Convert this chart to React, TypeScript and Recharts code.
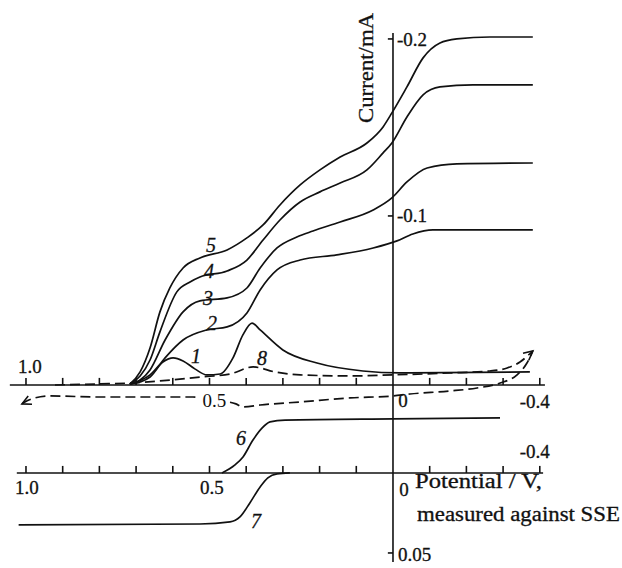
import { LineChart, Line, XAxis, YAxis, ReferenceLine, ReferenceDot } from "recharts";

// potential in V vs SSE, current in mA (cathodic negative, drawn upward)
const curve1 = [
  [0.717, -0.005], [0.662, -0.0102], [0.627, -0.0175], [0.599, -0.0198], [0.572, -0.0181],
  [0.54, -0.0136], [0.507, -0.0102], [0.471, -0.0107], [0.436, -0.0198], [0.409, -0.0328],
  [0.384, -0.0395], [0.362, -0.0356], [0.3, -0.0243], [0.207, -0.0169], [0.082, -0.0124],
  [-0.019, -0.0113], [-0.373, -0.0119],
];
const curve2 = [
  [0.717, -0.005], [0.689, -0.0062], [0.662, -0.009], [0.621, -0.0198], [0.572, -0.0299],
  [0.507, -0.0356], [0.452, -0.0373], [0.398, -0.0452], [0.362, -0.0582], [0.316, -0.0695],
  [0.253, -0.0751], [0.153, -0.078], [0.054, -0.0819], [-0.011, -0.0859], [-0.054, -0.0898],
  [-0.109, -0.0921], [-0.381, -0.0921],
];
const curve3 = [
  [0.717, -0.005], [0.689, -0.0073], [0.662, -0.013], [0.621, -0.0299], [0.572, -0.0458],
  [0.526, -0.052], [0.452, -0.0537], [0.398, -0.0593], [0.362, -0.0706], [0.316, -0.0819],
  [0.262, -0.0881], [0.218, -0.0915], [0.144, -0.0966], [0.054, -0.1034], [0.003, -0.1102],
  [-0.038, -0.1192], [-0.093, -0.1271], [-0.174, -0.1294], [-0.381, -0.1299],
];
const curve4 = [
  [0.717, -0.005], [0.689, -0.0096], [0.662, -0.0186], [0.635, -0.0345], [0.589, -0.0571],
  [0.553, -0.0627], [0.526, -0.0655], [0.452, -0.0689], [0.398, -0.0751], [0.354, -0.0864],
  [0.308, -0.0977], [0.253, -0.1079], [0.199, -0.1136], [0.144, -0.1186], [0.071, -0.126],
  [0.027, -0.1356], [0.003, -0.1412], [-0.038, -0.1559], [-0.082, -0.1684], [-0.128, -0.1729],
  [-0.218, -0.174], [-0.381, -0.174],
];
const curve5 = [
  [0.717, -0.005], [0.689, -0.0119], [0.662, -0.0254], [0.635, -0.0458], [0.608, -0.0593],
  [0.572, -0.0706], [0.526, -0.0763], [0.452, -0.0808], [0.398, -0.0876], [0.354, -0.0949],
  [0.308, -0.1062], [0.253, -0.1175], [0.199, -0.126], [0.144, -0.1333], [0.071, -0.1412],
  [0.027, -0.1503], [0.003, -0.1582], [-0.038, -0.1729], [-0.082, -0.1893], [-0.128, -0.1977],
  [-0.174, -0.2], [-0.264, -0.2011], [-0.381, -0.2011],
];
// curve 8 (dashed cyclic scan): forward and return branches
const curve8Forward = [
  [0.921, -0.0045], [0.798, -0.0051], [0.717, -0.0056], [0.635, -0.0068], [0.526, -0.009],
  [0.444, -0.0107], [0.381, -0.0147], [0.322, -0.0119], [0.253, -0.0102], [0.117, -0.0096],
  [0, -0.0102], [-0.155, -0.0113], [-0.264, -0.0124], [-0.311, -0.0141], [-0.346, -0.0175],
  [-0.381, -0.0237],
];
const curve8Return = [
  [1.011, 0.0062], [1.003, 0.0051], [0.975, 0.0028], [0.935, 0.0017], [0.798, 0.0023],
  [0.662, 0.0023], [0.545, 0.0023], [0.485, 0.004], [0.428, 0.0062], [0.409, 0.0079],
  [0.362, 0.0068], [0.253, 0.0051], [0.117, 0.0028], [0, 0.0017], [-0.046, 0.0006],
  [-0.155, -0.0011], [-0.229, -0.0028], [-0.292, -0.0056], [-0.338, -0.0102], [-0.365, -0.0169],
  [-0.381, -0.0237],
];
// lower panel (own current scale)
const curve6 = [
  [0.466, 0], [0.4305, -0.005], [0.4087, -0.01], [0.3815, -0.0206], [0.357, -0.028],
  [0.335, -0.0319], [0.294, -0.033], [0, -0.0338], [-0.2916, -0.0344],
];
const curve7 = [
  [1.02, 0.0325], [0.526, 0.0319], [0.444, 0.0306], [0.417, 0.0275], [0.39, 0.01875],
  [0.362, 0.00875], [0.341, 0.0031], [0.316, 0.0006], [0.281, 0],
];

const potentialTicks = [1.0, 0.9, 0.8, 0.7, 0.6, 0.5, 0.4, 0.3, 0.2, 0.1, -0.1, -0.2, -0.3, -0.4];
const upperCurrentTicks = [-0.2, -0.1];
const lowerCurrentTicks = [0.05];

const upperPotentialLabels = [
  { v: 1.0, text: "1.0", dx: 4, dy: -12 },
  { v: 0.5, text: "0.5", dx: 5, dy: 22, halo: true },
  { v: 0, text: "0", dx: 10, dy: 22 },
  { v: -0.4, text: "-0.4", dx: -5, dy: 23 },
];
const lowerPotentialLabels = [
  { v: 1.0, text: "1.0", dx: 1, dy: 21 },
  { v: 0.5, text: "0.5", dx: 2.5, dy: 21 },
  { v: 0, text: "0", dx: 11, dy: 23 },
  { v: -0.4, text: "-0.4", dx: -5, dy: -15 },
];
const upperCurrentLabels = [
  { i: -0.2, text: "-0.2", dy: 7 },
  { i: -0.1, text: "-0.1", dy: 6 },
];
const lowerCurrentLabels = [{ i: 0.05, text: "0.05", dy: 8 }];

const upperCurveTags = [
  { v: 0.496, i: -0.0836, text: "5" },
  { v: 0.501, i: -0.0689, text: "4" },
  { v: 0.504, i: -0.0537, text: "3" },
  { v: 0.493, i: -0.0395, text: "2" },
  { v: 0.537, i: -0.0209, text: "1" },
  { v: 0.357, i: -0.0198, text: "8" },
];
const lowerCurveTags = [
  { v: 0.414, i: -0.0219, text: "6" },
  { v: 0.373, i: 0.03, text: "7" },
];

const UP_AXIS = -0.0045; // where the upper potential axis is drawn
const FONT = '"Liberation Serif", "DejaVu Serif", "Times New Roman", Times, serif';
const INK = "#111";

const pts = (a: number[][]) => a.map(([v, i]) => ({ v, i }));

const Txt = ({ x, y, text, anchor = "middle", italic = false, size = 19, halo = false, fit, rotate, baseline }: any) => (
  <text
    x={x}
    y={y}
    textAnchor={anchor}
    fontFamily={FONT}
    style={{ fontFamily: FONT, fontSize: size, fontStyle: italic ? "italic" : "normal", paintOrder: "stroke" }}
    fill={INK}
    stroke={halo ? "#fff" : INK}
    strokeWidth={halo ? 8 : 0.3}
    dominantBaseline={baseline}
    textLength={fit}
    lengthAdjust={fit ? "spacingAndGlyphs" : undefined}
    transform={rotate ? `rotate(${rotate} ${x} ${y})` : undefined}
  >
    {text}
  </text>
);

const arrowDot = (atIndex: number, angle: number) => (p: any) => {
  if (p.index !== atIndex) return <g key={p.index} />;
  const { cx, cy } = p;
  return (
    <path
      key={p.index}
      d={`M ${cx - 9} ${cy - 4.5} L ${cx} ${cy} L ${cx - 9} ${cy + 4.5}`}
      fill="none"
      stroke={INK}
      strokeWidth={1.6}
      transform={`rotate(${angle} ${cx} ${cy})`}
    />
  );
};

export default function App() {
  const line = { dataKey: "i", stroke: INK, strokeWidth: 1.7, dot: false, activeDot: false, isAnimationActive: false, type: "monotone" as const };
  const axisStroke = { stroke: INK, strokeWidth: 1.6 };
  return (
    <div style={{ position: "absolute", left: 0, top: 0, width: 622, height: 568, background: "#fff", fontFamily: FONT }}>
      <LineChart width={622} height={568} margin={{ top: 0, right: 0, bottom: 0, left: 0 }}>
        <XAxis type="number" dataKey="v" domain={[-0.624, 1.0708]} reversed allowDataOverflow hide />
        <YAxis yAxisId="up" type="number" domain={[-0.222, 0.0989]} reversed allowDataOverflow hide />
        <YAxis yAxisId="low" type="number" domain={[-0.2956, 0.0594]} reversed allowDataOverflow hide />

        {/* axes */}
        <ReferenceLine yAxisId="up" segment={[{ x: 1.044, y: UP_AXIS }, { x: -0.414, y: UP_AXIS }]} {...axisStroke} />
        <ReferenceLine yAxisId="low" segment={[{ x: 1.025, y: 0 }, { x: -0.409, y: 0 }]} {...axisStroke} />
        <ReferenceLine yAxisId="up" segment={[{ x: 0, y: -0.2034 }, { x: 0, y: 0.0955 }]} {...axisStroke} />
        {potentialTicks.map((t) => (
          <ReferenceLine key={`ut${t}`} yAxisId="up" segment={[{ x: t, y: UP_AXIS }, { x: t, y: UP_AXIS - 0.004 }]} {...axisStroke} />
        ))}
        {potentialTicks.map((t) => (
          <ReferenceLine key={`lt${t}`} yAxisId="low" segment={[{ x: t, y: 0 }, { x: t, y: -0.0044 }]} {...axisStroke} />
        ))}
        {upperCurrentTicks.map((c) => (
          <ReferenceLine key={`uc${c}`} yAxisId="up" segment={[{ x: 0, y: c }, { x: 0.014, y: c }]} {...axisStroke} />
        ))}
        {lowerCurrentTicks.map((c) => (
          <ReferenceLine key={`lc${c}`} yAxisId="low" segment={[{ x: 0, y: c }, { x: 0.014, y: c }]} {...axisStroke} />
        ))}

        {/* curves */}
        <Line {...line} yAxisId="up" data={pts(curve1)} />
        <Line {...line} yAxisId="up" data={pts(curve2)} />
        <Line {...line} yAxisId="up" data={pts(curve3)} />
        <Line {...line} yAxisId="up" data={pts(curve4)} />
        <Line {...line} yAxisId="up" data={pts(curve5)} />
        <Line {...line} yAxisId="up" data={pts(curve8Forward)} strokeDasharray="10 5" dot={arrowDot(curve8Forward.length - 1, -40)} />
        <Line {...line} yAxisId="up" data={pts(curve8Return)} strokeDasharray="10 5" dot={arrowDot(0, 155)} />
        <Line {...line} yAxisId="low" data={pts(curve6)} />
        <Line {...line} yAxisId="low" data={pts(curve7)} />

        {/* labels */}
        {upperPotentialLabels.map((l) => (
          <ReferenceDot key={`upl${l.text}`} yAxisId="up" x={l.v} y={UP_AXIS} r={1}
            shape={(p: any) => <Txt x={p.cx + l.dx} y={p.cy + l.dy} text={l.text} halo={l.halo} />} />
        ))}
        {lowerPotentialLabels.map((l) => (
          <ReferenceDot key={`lpl${l.text}`} yAxisId="low" x={l.v} y={0} r={1}
            shape={(p: any) => <Txt x={p.cx + l.dx} y={p.cy + l.dy} text={l.text} />} />
        ))}
        {upperCurrentLabels.map((l) => (
          <ReferenceDot key={`ucl${l.text}`} yAxisId="up" x={0} y={l.i} r={1}
            shape={(p: any) => <Txt x={p.cx + 4} y={p.cy + l.dy} text={l.text} anchor="start" />} />
        ))}
        {lowerCurrentLabels.map((l) => (
          <ReferenceDot key={`lcl${l.text}`} yAxisId="low" x={0} y={l.i} r={1}
            shape={(p: any) => <Txt x={p.cx + 5} y={p.cy + l.dy} text={l.text} anchor="start" />} />
        ))}
        {upperCurveTags.map((l) => (
          <ReferenceDot key={`uct${l.text}`} yAxisId="up" x={l.v} y={l.i} r={1}
            shape={(p: any) => <Txt x={p.cx} y={p.cy} text={l.text} italic size={20} baseline="central" />} />
        ))}
        {lowerCurveTags.map((l) => (
          <ReferenceDot key={`lct${l.text}`} yAxisId="low" x={l.v} y={l.i} r={1}
            shape={(p: any) => <Txt x={p.cx} y={p.cy} text={l.text} italic size={20} baseline="central" />} />
        ))}

        {/* axis titles */}
        <ReferenceDot yAxisId="up" x={0} y={-0.2} r={1}
          shape={(p: any) => <Txt x={p.cx - 20} y={p.cy + 29} text="Current/mA" size={21} fit={110} rotate={-90} />} />
        <ReferenceDot yAxisId="low" x={0} y={0} r={1}
          shape={(p: any) => <Txt x={p.cx + 22} y={p.cy + 15} text="Potential / V," anchor="start" size={20} fit={127} />} />
        <ReferenceDot yAxisId="low" x={0} y={0} r={1}
          shape={(p: any) => <Txt x={p.cx + 24} y={p.cy + 48} text="measured against SSE" anchor="start" size={20} fit={203} />} />
      </LineChart>
    </div>
  );
}
